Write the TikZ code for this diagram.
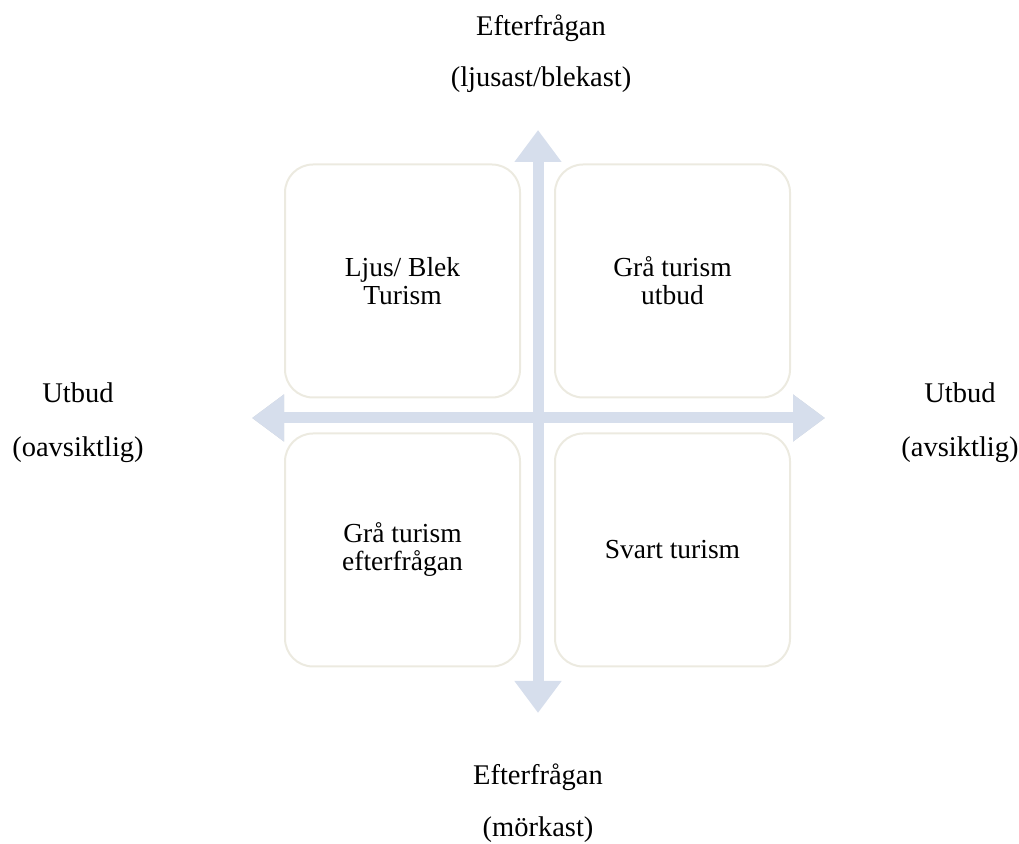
\documentclass[tikz,border=0pt]{standalone}
\usepackage{fontspec}
\setmainfont{Liberation Serif}
\usetikzlibrary{arrows.meta}

\definecolor{pilbla}{RGB}{214,222,236}
\definecolor{pilskugga}{RGB}{170,176,188}
\definecolor{ramgra}{RGB}{236,234,224}

\begin{document}
\begin{tikzpicture}[x=1pt,y=1pt,
  ruta/.style={draw=ramgra, line width=2pt, rounded corners=28pt,
    minimum width=235pt, minimum height=233pt, align=center,
    font=\fontsize{27.5}{28}\selectfont},
  etikett/.style={anchor=base, font=\fontsize{28.5}{30}\selectfont},
  pil/.style={pilbla, line width=11pt,
    -{Triangle[width=45pt,length=32pt]}}
]

% Ram
\useasboundingbox (0,0) rectangle (1019,843);

% ------------------- Rutor -------------------
\node[ruta] (ljus)   at (402.5,562) {Ljus/ Blek\\Turism};
\node[ruta] (grau)   at (672.5,562) {Grå turism\\utbud};
\node[ruta] (grae)   at (402.5,293) {Grå turism\\efterfrågan};
\node[ruta] (svart)  at (672.5,293) {Svart turism};

% ------------------- Pilar -------------------
\coordinate (mitt)    at (538,425);
\coordinate (upp)     at (538,713);
\coordinate (ner)     at (538,130);
\coordinate (vanster) at (252,425);
\coordinate (hoger)   at (825,425);

% skugga
\begin{scope}[shift={(1,-2)}]
  \draw[pil, pilskugga!60] (mitt) -- (hoger);
  \draw[pil, pilskugga!60] (mitt) -- (vanster);
\end{scope}
\draw[pil] (mitt) -- (upp);
\draw[pil] (mitt) -- (ner);
\draw[pil] (mitt) -- (hoger);
\draw[pil] (mitt) -- (vanster);

% ------------------- Etiketter -------------------
\node[etikett] (efu1) at (541,807) {Efterfrågan};
\node[etikett] (efu2) at (541,756) {(ljusast/blekast)};
\node[etikett] (efn1) at (538,59)  {Efterfrågan};
\node[etikett] (efn2) at (538,7)   {(mörkast)};
\node[etikett] (utv1) at (78,440)  {Utbud};
\node[etikett] (utv2) at (78,386)  {(oavsiktlig)};
\node[etikett] (uth1) at (960,440) {Utbud};
\node[etikett] (uth2) at (960,386) {(avsiktlig)};

\end{tikzpicture}
\end{document}
